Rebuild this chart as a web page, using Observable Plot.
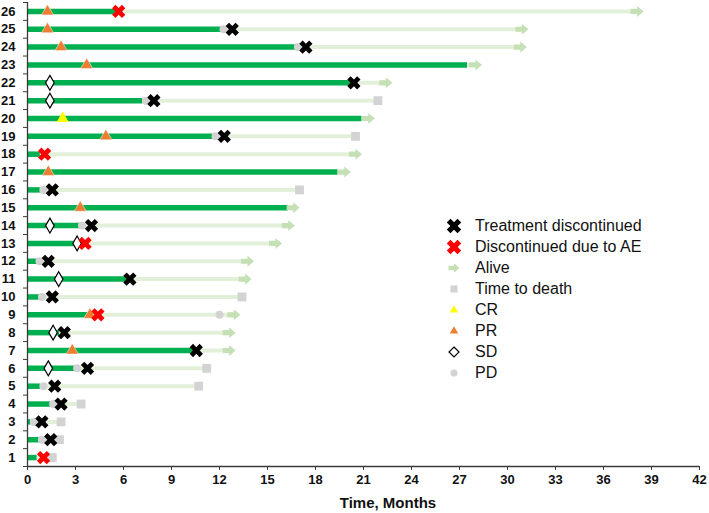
<!DOCTYPE html>
<html><head><meta charset="utf-8">
<script src="https://cdn.jsdelivr.net/npm/d3@7"></script>
<script src="https://cdn.jsdelivr.net/npm/@observablehq/plot@0.6"></script>
<style>
body{margin:0;background:#fff;font-family:"Liberation Sans",Arial,sans-serif;}
#wrap{position:relative;width:709px;height:513px;overflow:hidden;}
#wrap svg.plot text{font-weight:bold;}
.xlabel{position:absolute;top:494px;left:338px;width:100px;text-align:center;font-weight:bold;font-size:15px;line-height:18px;color:#111;white-space:nowrap;}
.lg{position:absolute;font-size:16px;line-height:18px;color:#111;white-space:nowrap;}
.lgm{position:absolute;width:20px;height:20px;}
</style></head><body><div id="wrap"></div>
<script>
// ---- data ----
const patients = d3.range(1, 27);
const treatEnd  = [0.6,0.8,0.2,1.45,0.8,3.0,10.4,2.0,3.75,0.8,6.3,0.7,3.1,3.3,16.3,0.8,19.4,0.8,11.7,20.9,7.2,20.3,27.5,16.8,12.2,5.6];
const followEnd = [1.55,2.0,2.1,3.35,10.7,11.2,12.6,12.6,12.9,13.4,13.6,13.75,15.5,16.3,16.6,17.0,19.8,20.5,20.5,21.3,21.9,22.4,28.0,30.8,30.9,38.1];
const status = ["Dead","Dead","Dead","Dead","Dead","Dead","Alive","Alive","Alive","Dead","Alive","Alive","Alive","Alive","Alive","Dead","Alive","Alive","Dead","Alive","Dead","Alive","Alive","Alive","Alive","Alive"];

const discPatients = [1,2,3,4,5,6,7,8,9,10,11,12,13,14,16,18,19,21,22,24,25,26];
const discMonths   = [1.0,1.45,0.9,2.1,1.7,3.75,10.55,2.3,4.4,1.55,6.4,1.3,3.6,4.0,1.55,1.07,12.3,7.9,20.4,17.4,12.8,5.7];
const discReason   = ["AE","TD","TD","TD","TD","TD","TD","TD","AE","TD","TD","TD","AE","TD","TD","AE","TD","TD","TD","TD","TD","AE"];

const crPatients = [20];
const crMonths   = [2.2];
const prPatients = [7,9,15,17,19,23,24,25,26];
const prMonths   = [2.8,3.9,3.3,1.3,4.9,3.7,2.1,1.25,1.25];
const sdPatients = [6,8,11,13,14,21,22];
const sdMonths   = [1.3,1.6,1.95,3.1,1.4,1.4,1.4];
const pdPatients = [2,3,4,5,6,9,10,12,14,16,19,21,24,25];
const pdMonths   = [0.9,0.4,1.6,1.0,3.1,12.0,0.9,0.75,3.4,1.0,11.75,7.4,16.9,12.25];

const xTicks = d3.range(0, 43, 3);
const legendLabels = ["Treatment discontinued","Discontinued due to AE","Alive","Time to death","CR","PR","SD","PD"];

// ---- custom symbols ----
const xSym = {draw(ctx, size){
  const r = Math.sqrt(size/Math.PI), t = 0.34*r;
  const pts = [[-t,-r],[t,-r],[t,-t],[r,-t],[r,t],[t,t],[t,r],[-t,r],[-t,t],[-r,t],[-r,-t],[-t,-t]]
    .map(([x,y]) => [(x-y)/Math.SQRT2, (x+y)/Math.SQRT2]);
  ctx.moveTo(pts[0][0], pts[0][1]);
  for (let i = 1; i < pts.length; i++) ctx.lineTo(pts[i][0], pts[i][1]);
  ctx.closePath();
}};
const arrowSym = {draw(ctx, size){
  const r = Math.sqrt(size/Math.PI);
  ctx.moveTo(-r, -0.4*r); ctx.lineTo(0, -0.4*r); ctx.lineTo(0, -0.85*r);
  ctx.lineTo(r, 0); ctx.lineTo(0, 0.85*r); ctx.lineTo(0, 0.4*r); ctx.lineTo(-r, 0.4*r);
  ctx.closePath();
}};

// ---- tables ----
const rows = patients.map((p,i) => ({p, treat: treatEnd[i], end: followEnd[i], status: status[i]}));
const disc = discPatients.map((p,i) => ({p, m: discMonths[i], reason: discReason[i]}));
const pts = (ps, ms) => ps.map((p,i) => ({p, m: ms[i]}));

const ink = "#3a3a3a";
const chart = Plot.plot({
  width: 709, height: 513,
  marginLeft: 27, marginRight: 10, marginTop: 2, marginBottom: 47,
  x: {domain: [0, 42]},
  y: {domain: [0.5, 26.5]},
  style: {fontFamily: "'Liberation Sans', Arial, sans-serif", color: "#111", background: "#fff"},
  marks: [
    Plot.ruleY(rows, {y: "p", x1: 0, x2: "end", stroke: "#e2f0d9", strokeWidth: 4}),
    Plot.ruleY(rows, {y: "p", x1: 0, x2: "treat", stroke: "#00b050", strokeWidth: 5.5}),
    Plot.dot(rows.filter(d => d.status === "Alive"), {x: "end", y: "p", symbol: arrowSym, r: 6.5, fill: "#c5e0b4"}),
    Plot.dot(rows.filter(d => d.status === "Dead"), {x: "end", y: "p", symbol: "square", r: 5, fill: "#d3d3d3"}),
    Plot.dot(pts(pdPatients, pdMonths), {x: "m", y: "p", symbol: "circle", r: 4, fill: "#d3d3d3"}),
    Plot.dot(pts(crPatients, crMonths), {x: "m", y: "p", symbol: "triangle", r: 4.5, fill: "#ffff00"}),
    Plot.dot(pts(prPatients, prMonths), {x: "m", y: "p", symbol: "triangle", r: 4.5, fill: "#ed7d31", stroke: "#fff", strokeWidth: 0.5}),
    Plot.dot(pts(sdPatients, sdMonths), {x: "m", y: "p", symbol: "diamond", r: 4.5, fill: "#fff", stroke: "#000", strokeWidth: 1.2}),
    Plot.dot(disc, {x: "m", y: "p", symbol: xSym, r: 7, fill: d => d.reason === "AE" ? "#ff0000" : "#000"}),
    Plot.ruleX([0], {stroke: ink, strokeWidth: 1.3}),
    Plot.ruleY([0.5], {stroke: ink, strokeWidth: 1.3}),
    Plot.axisX({ticks: xTicks, tickSize: 4, tickPadding: 4, fontSize: 13, fontWeight: "bold", label: null, stroke: ink, tickFormat: d => d}),
    Plot.axisY({ticks: patients, tickSize: 0, tickPadding: 12, fontSize: 13, fontWeight: "bold", label: null, tickFormat: d => d}),
    Plot.axisY({ticks: d3.range(0.5, 27, 1), tickSize: 4, tickFormat: () => "", label: null, stroke: ink})
  ]
});
const wrap = document.getElementById("wrap");
wrap.appendChild(chart);

const xl = document.createElement("div");
xl.className = "xlabel"; xl.textContent = "Time, Months";
wrap.appendChild(xl);

// ---- legend ----
const legendSyms = [
  {sym: xSym, r: 7.6, fill: "#000"},
  {sym: xSym, r: 7.6, fill: "#ff0000"},
  {sym: arrowSym, r: 5.5, fill: "#c5e0b4"},
  {sym: d3.symbolSquare, r: 4, fill: "#d3d3d3"},
  {sym: d3.symbolTriangle2, r: 4, fill: "#ffff00"},
  {sym: d3.symbolTriangle2, r: 4, fill: "#ed7d31"},
  {sym: d3.symbolDiamond2, r: 4.5, fill: "#fff", stroke: "#000"},
  {sym: d3.symbolCircle, r: 3.6, fill: "#d3d3d3"}
];
legendLabels.forEach((label, i) => {
  const yc = 225.5 + i * 21;
  const s = legendSyms[i];
  const m = document.createElementNS("http://www.w3.org/2000/svg", "svg");
  m.setAttribute("class", "lgm"); m.setAttribute("width", 20); m.setAttribute("height", 20);
  m.style.left = (454 - 10) + "px"; m.style.top = (yc - 10) + "px";
  const path = document.createElementNS("http://www.w3.org/2000/svg", "path");
  path.setAttribute("d", d3.symbol(s.sym, Math.PI * s.r * s.r)());
  path.setAttribute("transform", "translate(10,10)");
  path.setAttribute("fill", s.fill);
  if (s.stroke) { path.setAttribute("stroke", s.stroke); path.setAttribute("stroke-width", 1.2); }
  m.appendChild(path);
  wrap.appendChild(m);
  const t = document.createElement("div");
  t.className = "lg"; t.textContent = label;
  t.style.left = "475px"; t.style.top = (yc - 9) + "px";
  wrap.appendChild(t);
});
</script></body></html>
